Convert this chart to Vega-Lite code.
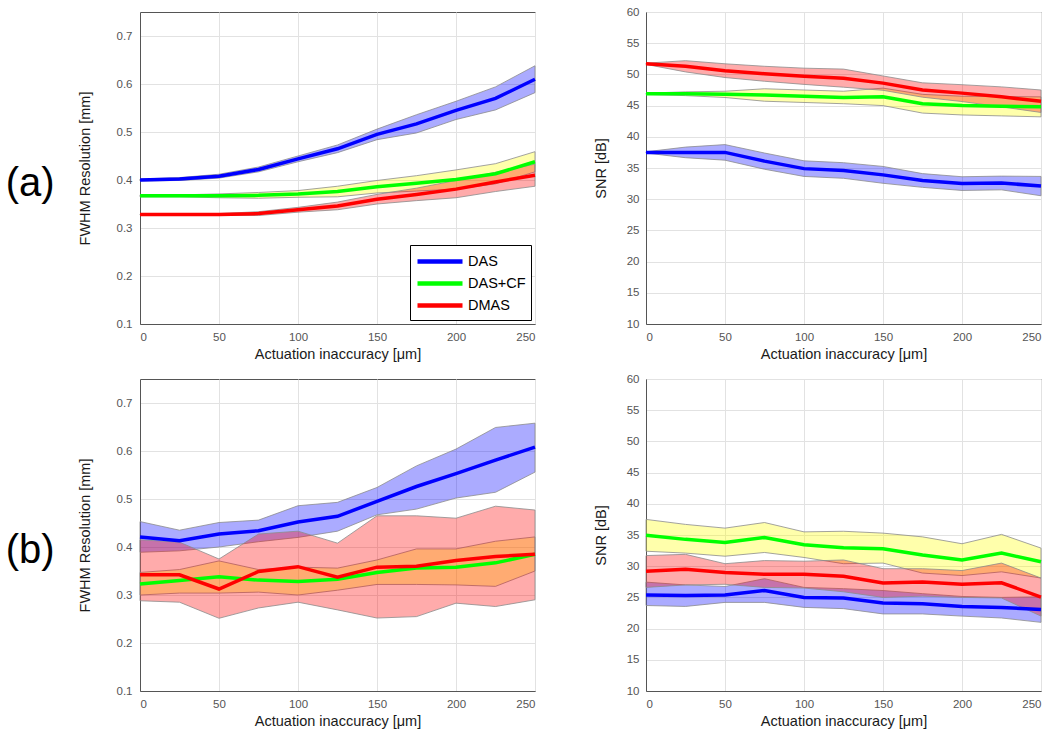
{
  "$schema": "https://vega.github.io/schema/vega-lite/v6.json",
  "padding": {"left": 5, "top": 5, "right": 5, "bottom": 5},
  "background": "white",
  "config": {
    "font": "Liberation Sans",
    "view": {"stroke": "#555", "strokeWidth": 1},
    "axis": {"grid": true, "gridColor": "#e2e2e2", "domainColor": "#555", "tickSize": 0, "labelColor": "#555", "labelFontSize": 11.5, "titleFontSize": 14.5, "titleFontWeight": "normal", "titleColor": "#1a1a1a"},
    "title": {"font": "Liberation Sans", "fontWeight": "normal", "color": "#000"}
  },
  "datasets": {
    "al": [
      {"x":0,"m":"DAS","mean":0.400,"lo":0.398,"hi":0.402},{"x":25,"m":"DAS","mean":0.402,"lo":0.399,"hi":0.405},{"x":50,"m":"DAS","mean":0.408,"lo":0.404,"hi":0.412},{"x":75,"m":"DAS","mean":0.422,"lo":0.417,"hi":0.427},{"x":100,"m":"DAS","mean":0.444,"lo":0.438,"hi":0.450},{"x":125,"m":"DAS","mean":0.465,"lo":0.457,"hi":0.473},{"x":150,"m":"DAS","mean":0.495,"lo":0.484,"hi":0.506},{"x":175,"m":"DAS","mean":0.517,"lo":0.498,"hi":0.536},{"x":200,"m":"DAS","mean":0.545,"lo":0.526,"hi":0.564},{"x":225,"m":"DAS","mean":0.570,"lo":0.546,"hi":0.594},{"x":250,"m":"DAS","mean":0.610,"lo":0.582,"hi":0.638},
      {"x":0,"m":"DAS+CF","mean":0.367,"lo":0.365,"hi":0.369},{"x":25,"m":"DAS+CF","mean":0.367,"lo":0.365,"hi":0.369},{"x":50,"m":"DAS+CF","mean":0.367,"lo":0.363,"hi":0.371},{"x":75,"m":"DAS+CF","mean":0.368,"lo":0.362,"hi":0.374},{"x":100,"m":"DAS+CF","mean":0.371,"lo":0.364,"hi":0.378},{"x":125,"m":"DAS+CF","mean":0.376,"lo":0.365,"hi":0.387},{"x":150,"m":"DAS+CF","mean":0.386,"lo":0.373,"hi":0.399},{"x":175,"m":"DAS+CF","mean":0.393,"lo":0.377,"hi":0.409},{"x":200,"m":"DAS+CF","mean":0.401,"lo":0.381,"hi":0.421},{"x":225,"m":"DAS+CF","mean":0.413,"lo":0.392,"hi":0.434},{"x":250,"m":"DAS+CF","mean":0.438,"lo":0.417,"hi":0.459},
      {"x":0,"m":"DMAS","mean":0.328,"lo":0.327,"hi":0.329},{"x":25,"m":"DMAS","mean":0.328,"lo":0.327,"hi":0.329},{"x":50,"m":"DMAS","mean":0.328,"lo":0.326,"hi":0.330},{"x":75,"m":"DMAS","mean":0.330,"lo":0.326,"hi":0.334},{"x":100,"m":"DMAS","mean":0.338,"lo":0.333,"hi":0.343},{"x":125,"m":"DMAS","mean":0.346,"lo":0.338,"hi":0.354},{"x":150,"m":"DMAS","mean":0.360,"lo":0.350,"hi":0.370},{"x":175,"m":"DMAS","mean":0.370,"lo":0.357,"hi":0.383},{"x":200,"m":"DMAS","mean":0.381,"lo":0.363,"hi":0.399},{"x":225,"m":"DMAS","mean":0.396,"lo":0.376,"hi":0.416},{"x":250,"m":"DMAS","mean":0.410,"lo":0.387,"hi":0.433}
    ],
    "ar": [
      {"x":0,"m":"DAS","mean":37.5,"lo":37.4,"hi":37.6},{"x":25,"m":"DAS","mean":37.5,"lo":36.65,"hi":38.35},{"x":50,"m":"DAS","mean":37.5,"lo":36.25,"hi":38.75},{"x":75,"m":"DAS","mean":36.1,"lo":34.8,"hi":37.4},{"x":100,"m":"DAS","mean":34.9,"lo":33.65,"hi":36.15},{"x":125,"m":"DAS","mean":34.6,"lo":33.35,"hi":35.85},{"x":150,"m":"DAS","mean":33.9,"lo":32.55,"hi":35.25},{"x":175,"m":"DAS","mean":33.0,"lo":31.9,"hi":34.1},{"x":200,"m":"DAS","mean":32.5,"lo":31.4,"hi":33.6},{"x":225,"m":"DAS","mean":32.6,"lo":31.5,"hi":33.7},{"x":250,"m":"DAS","mean":32.1,"lo":30.55,"hi":33.65},
      {"x":0,"m":"DAS+CF","mean":46.9,"lo":46.8,"hi":47.0},{"x":25,"m":"DAS+CF","mean":46.9,"lo":46.6,"hi":47.2},{"x":50,"m":"DAS+CF","mean":46.8,"lo":46.3,"hi":47.3},{"x":75,"m":"DAS+CF","mean":46.7,"lo":45.7,"hi":47.7},{"x":100,"m":"DAS+CF","mean":46.5,"lo":45.5,"hi":47.5},{"x":125,"m":"DAS+CF","mean":46.3,"lo":45.3,"hi":47.3},{"x":150,"m":"DAS+CF","mean":46.4,"lo":45.0,"hi":47.8},{"x":175,"m":"DAS+CF","mean":45.3,"lo":43.8,"hi":46.8},{"x":200,"m":"DAS+CF","mean":45.0,"lo":43.5,"hi":46.5},{"x":225,"m":"DAS+CF","mean":44.9,"lo":43.35,"hi":46.45},{"x":250,"m":"DAS+CF","mean":44.8,"lo":43.2,"hi":46.4},
      {"x":0,"m":"DMAS","mean":51.7,"lo":51.6,"hi":51.8},{"x":25,"m":"DMAS","mean":51.3,"lo":50.4,"hi":52.2},{"x":50,"m":"DMAS","mean":50.6,"lo":49.5,"hi":51.7},{"x":75,"m":"DMAS","mean":50.1,"lo":48.9,"hi":51.3},{"x":100,"m":"DMAS","mean":49.7,"lo":48.4,"hi":51.0},{"x":125,"m":"DMAS","mean":49.4,"lo":47.95,"hi":50.85},{"x":150,"m":"DMAS","mean":48.6,"lo":47.45,"hi":49.75},{"x":175,"m":"DMAS","mean":47.5,"lo":46.35,"hi":48.65},{"x":200,"m":"DMAS","mean":47.0,"lo":45.65,"hi":48.35},{"x":225,"m":"DMAS","mean":46.4,"lo":44.8,"hi":48.0},{"x":250,"m":"DMAS","mean":45.7,"lo":43.9,"hi":47.5}
    ],
    "bl": [
      {"x":0,"m":"DAS","mean":0.421,"lo":0.389,"hi":0.453},{"x":25,"m":"DAS","mean":0.413,"lo":0.392,"hi":0.435},{"x":50,"m":"DAS","mean":0.427,"lo":0.400,"hi":0.451},{"x":75,"m":"DAS","mean":0.434,"lo":0.411,"hi":0.456},{"x":100,"m":"DAS","mean":0.452,"lo":0.420,"hi":0.486},{"x":125,"m":"DAS","mean":0.464,"lo":0.433,"hi":0.493},{"x":150,"m":"DAS","mean":0.495,"lo":0.467,"hi":0.524},{"x":175,"m":"DAS","mean":0.526,"lo":0.479,"hi":0.569},{"x":200,"m":"DAS","mean":0.553,"lo":0.502,"hi":0.604},{"x":225,"m":"DAS","mean":0.581,"lo":0.514,"hi":0.649},{"x":250,"m":"DAS","mean":0.608,"lo":0.556,"hi":0.658},
      {"x":0,"m":"DAS+CF","mean":0.323,"lo":0.300,"hi":0.347},{"x":25,"m":"DAS+CF","mean":0.330,"lo":0.304,"hi":0.353},{"x":50,"m":"DAS+CF","mean":0.338,"lo":0.304,"hi":0.371},{"x":75,"m":"DAS+CF","mean":0.331,"lo":0.306,"hi":0.353},{"x":100,"m":"DAS+CF","mean":0.328,"lo":0.300,"hi":0.358},{"x":125,"m":"DAS+CF","mean":0.333,"lo":0.310,"hi":0.356},{"x":150,"m":"DAS+CF","mean":0.347,"lo":0.322,"hi":0.373},{"x":175,"m":"DAS+CF","mean":0.356,"lo":0.322,"hi":0.396},{"x":200,"m":"DAS+CF","mean":0.358,"lo":0.321,"hi":0.396},{"x":225,"m":"DAS+CF","mean":0.367,"lo":0.318,"hi":0.412},{"x":250,"m":"DAS+CF","mean":0.385,"lo":0.350,"hi":0.421},
      {"x":0,"m":"DMAS","mean":0.342,"lo":0.288,"hi":0.415},{"x":25,"m":"DMAS","mean":0.342,"lo":0.285,"hi":0.410},{"x":50,"m":"DMAS","mean":0.3125,"lo":0.2515,"hi":0.375},{"x":75,"m":"DMAS","mean":0.349,"lo":0.273,"hi":0.427},{"x":100,"m":"DMAS","mean":0.359,"lo":0.285,"hi":0.433},{"x":125,"m":"DMAS","mean":0.337,"lo":0.269,"hi":0.408},{"x":150,"m":"DMAS","mean":0.358,"lo":0.252,"hi":0.465},{"x":175,"m":"DMAS","mean":0.360,"lo":0.255,"hi":0.465},{"x":200,"m":"DMAS","mean":0.372,"lo":0.283,"hi":0.460},{"x":225,"m":"DMAS","mean":0.380,"lo":0.276,"hi":0.485},{"x":250,"m":"DMAS","mean":0.385,"lo":0.290,"hi":0.477}
    ],
    "br": [
      {"x":0,"m":"DAS","mean":25.4,"lo":23.7,"hi":27.45},{"x":25,"m":"DAS","mean":25.3,"lo":23.55,"hi":27.0},{"x":50,"m":"DAS","mean":25.4,"lo":24.2,"hi":26.75},{"x":75,"m":"DAS","mean":26.1,"lo":24.2,"hi":28.0},{"x":100,"m":"DAS","mean":25.0,"lo":23.4,"hi":26.6},{"x":125,"m":"DAS","mean":24.9,"lo":23.2,"hi":26.4},{"x":150,"m":"DAS","mean":24.1,"lo":22.35,"hi":26.1},{"x":175,"m":"DAS","mean":24.0,"lo":22.35,"hi":25.6},{"x":200,"m":"DAS","mean":23.55,"lo":22.0,"hi":25.15},{"x":225,"m":"DAS","mean":23.4,"lo":21.7,"hi":25.0},{"x":250,"m":"DAS","mean":23.05,"lo":21.0,"hi":25.1},
      {"x":0,"m":"DAS+CF","mean":34.95,"lo":32.4,"hi":37.5},{"x":25,"m":"DAS+CF","mean":34.3,"lo":32.1,"hi":36.7},{"x":50,"m":"DAS+CF","mean":33.8,"lo":31.6,"hi":36.1},{"x":75,"m":"DAS+CF","mean":34.6,"lo":32.2,"hi":37.0},{"x":100,"m":"DAS+CF","mean":33.45,"lo":31.4,"hi":35.5},{"x":125,"m":"DAS+CF","mean":32.95,"lo":30.4,"hi":35.6},{"x":150,"m":"DAS+CF","mean":32.8,"lo":30.5,"hi":35.3},{"x":175,"m":"DAS+CF","mean":31.8,"lo":28.9,"hi":34.7},{"x":200,"m":"DAS+CF","mean":31.0,"lo":28.5,"hi":33.6},{"x":225,"m":"DAS+CF","mean":32.1,"lo":29.1,"hi":35.1},{"x":250,"m":"DAS+CF","mean":30.7,"lo":28.1,"hi":32.9},
      {"x":0,"m":"DMAS","mean":29.2,"lo":26.6,"hi":31.7},{"x":25,"m":"DMAS","mean":29.5,"lo":27.0,"hi":31.9},{"x":50,"m":"DMAS","mean":29.0,"lo":27.1,"hi":30.4},{"x":75,"m":"DMAS","mean":28.7,"lo":26.6,"hi":30.9},{"x":100,"m":"DMAS","mean":28.7,"lo":26.5,"hi":30.8},{"x":125,"m":"DMAS","mean":28.4,"lo":25.9,"hi":31.0},{"x":150,"m":"DMAS","mean":27.3,"lo":25.0,"hi":29.6},{"x":175,"m":"DMAS","mean":27.45,"lo":25.2,"hi":29.6},{"x":200,"m":"DMAS","mean":27.1,"lo":25.0,"hi":29.3},{"x":225,"m":"DMAS","mean":27.35,"lo":24.9,"hi":30.5},{"x":250,"m":"DMAS","mean":25.05,"lo":22.0,"hi":28.1}
    ]
  },
  "spacing": 10,
  "resolve": {"scale": {"fill": "independent", "color": "independent", "x": "independent", "y": "independent"}, "legend": {"fill": "independent", "color": "independent"}},
  "vconcat": [
    {
      "title": {"text": "(a)", "orient": "left", "angle": 0, "anchor": "middle", "fontSize": 40, "align": "left", "baseline": "middle", "offset": 22},
      "spacing": 49,
      "resolve": {"scale": {"fill": "independent", "color": "independent", "x": "independent", "y": "independent"}, "legend": {"fill": "independent", "color": "independent"}},
      "hconcat": [
        {
          "width": 395, "height": 312,
          "data": {"name": "al"},
          "layer": [
            {"mark": {"type": "area", "fillOpacity": 0.33, "stroke": "#8c8c8c", "strokeWidth": 0.8},
             "encoding": {
               "x": {"field": "x", "type": "quantitative", "scale": {"domain": [0, 250], "nice": false}, "axis": {"values": [0,50,100,150,200,250], "title": "Actuation inaccuracy [μm]", "labelPadding": 7, "titlePadding": 5}},
               "y": {"field": "lo", "type": "quantitative", "scale": {"domain": [0.1, 0.75], "nice": false, "zero": false}, "axis": {"values": [0.1,0.2,0.3,0.4,0.5,0.6,0.7], "format": ".1f", "title": "FWHM Resolution [mm]", "labelPadding": 8, "titlePadding": 24}},
               "y2": {"field": "hi"},
               "fill": {"field": "m", "type": "nominal", "scale": {"domain": ["DMAS", "DAS", "DAS+CF"], "range": ["#ff0000", "#0000ff", "#ffff00"]}, "legend": null}
             }},
            {"mark": {"type": "line", "strokeWidth": 3.5},
             "encoding": {
               "x": {"field": "x", "type": "quantitative", "scale": {"domain": [0, 250], "nice": false}, "axis": {"values": [0,50,100,150,200,250], "title": "Actuation inaccuracy [μm]", "labelPadding": 7, "titlePadding": 5}},
               "y": {"field": "mean", "type": "quantitative", "scale": {"domain": [0.1, 0.75], "nice": false, "zero": false}, "axis": {"values": [0.1,0.2,0.3,0.4,0.5,0.6,0.7], "format": ".1f", "title": "FWHM Resolution [mm]", "labelPadding": 8, "titlePadding": 24}},
               "color": {"field": "m", "type": "nominal", "scale": {"domain": ["DAS", "DAS+CF", "DMAS"], "range": ["#0000ff", "#00ff00", "#ff0000"]},
                 "legend": {"orient": "bottom-right", "title": null, "symbolType": "M-1,0H4", "symbolSize": 324, "symbolStrokeWidth": 4.5, "labelFontSize": 14.5, "labelColor": "#000", "strokeColor": "#000", "fillColor": "#fff", "padding": 5, "offset": 4, "labelOffset": 30, "rowPadding": 1}}
             }}
          ]
        },
        {
          "width": 395, "height": 312,
          "data": {"name": "ar"},
          "layer": [
            {"mark": {"type": "area", "fillOpacity": 0.33, "stroke": "#8c8c8c", "strokeWidth": 0.8},
             "encoding": {
               "x": {"field": "x", "type": "quantitative", "scale": {"domain": [0, 250], "nice": false}, "axis": {"values": [0,50,100,150,200,250], "title": "Actuation inaccuracy [μm]", "labelPadding": 7, "titlePadding": 5}},
               "y": {"field": "lo", "type": "quantitative", "scale": {"domain": [10, 60], "nice": false, "zero": false}, "axis": {"values": [10,15,20,25,30,35,40,45,50,55,60], "title": "SNR [dB]", "labelPadding": 7, "titlePadding": 18}},
               "y2": {"field": "hi"},
               "fill": {"field": "m", "type": "nominal", "scale": {"domain": ["DMAS", "DAS", "DAS+CF"], "range": ["#ff0000", "#0000ff", "#ffff00"]}, "legend": null}
             }},
            {"mark": {"type": "line", "strokeWidth": 3.5},
             "encoding": {
               "x": {"field": "x", "type": "quantitative", "scale": {"domain": [0, 250], "nice": false}, "axis": {"values": [0,50,100,150,200,250], "title": "Actuation inaccuracy [μm]", "labelPadding": 7, "titlePadding": 5}},
               "y": {"field": "mean", "type": "quantitative", "scale": {"domain": [10, 60], "nice": false, "zero": false}, "axis": {"values": [10,15,20,25,30,35,40,45,50,55,60], "title": "SNR [dB]", "labelPadding": 7, "titlePadding": 18}},
               "color": {"field": "m", "type": "nominal", "scale": {"domain": ["DAS", "DAS+CF", "DMAS"], "range": ["#0000ff", "#00ff00", "#ff0000"]}, "legend": null}
             }}
          ]
        }
      ]
    },
    {
      "title": {"text": "(b)", "orient": "left", "angle": 0, "anchor": "middle", "fontSize": 40, "align": "left", "baseline": "middle", "offset": 22},
      "spacing": 49,
      "resolve": {"scale": {"fill": "independent", "color": "independent", "x": "independent", "y": "independent"}, "legend": {"fill": "independent", "color": "independent"}},
      "hconcat": [
        {
          "width": 395, "height": 312,
          "data": {"name": "bl"},
          "layer": [
            {"mark": {"type": "area", "fillOpacity": 0.33, "stroke": "#8c8c8c", "strokeWidth": 0.8},
             "encoding": {
               "x": {"field": "x", "type": "quantitative", "scale": {"domain": [0, 250], "nice": false}, "axis": {"values": [0,50,100,150,200,250], "title": "Actuation inaccuracy [μm]", "labelPadding": 7, "titlePadding": 5}},
               "y": {"field": "lo", "type": "quantitative", "scale": {"domain": [0.1, 0.75], "nice": false, "zero": false}, "axis": {"values": [0.1,0.2,0.3,0.4,0.5,0.6,0.7], "format": ".1f", "title": "FWHM Resolution [mm]", "labelPadding": 8, "titlePadding": 24}},
               "y2": {"field": "hi"},
               "fill": {"field": "m", "type": "nominal", "scale": {"domain": ["DMAS", "DAS", "DAS+CF"], "range": ["#ff0000", "#0000ff", "#ffff00"]}, "legend": null}
             }},
            {"mark": {"type": "line", "strokeWidth": 3.5},
             "encoding": {
               "x": {"field": "x", "type": "quantitative", "scale": {"domain": [0, 250], "nice": false}, "axis": {"values": [0,50,100,150,200,250], "title": "Actuation inaccuracy [μm]", "labelPadding": 7, "titlePadding": 5}},
               "y": {"field": "mean", "type": "quantitative", "scale": {"domain": [0.1, 0.75], "nice": false, "zero": false}, "axis": {"values": [0.1,0.2,0.3,0.4,0.5,0.6,0.7], "format": ".1f", "title": "FWHM Resolution [mm]", "labelPadding": 8, "titlePadding": 24}},
               "color": {"field": "m", "type": "nominal", "scale": {"domain": ["DAS", "DAS+CF", "DMAS"], "range": ["#0000ff", "#00ff00", "#ff0000"]}, "legend": null}
             }}
          ]
        },
        {
          "width": 395, "height": 312,
          "data": {"name": "br"},
          "layer": [
            {"mark": {"type": "area", "fillOpacity": 0.33, "stroke": "#8c8c8c", "strokeWidth": 0.8},
             "encoding": {
               "x": {"field": "x", "type": "quantitative", "scale": {"domain": [0, 250], "nice": false}, "axis": {"values": [0,50,100,150,200,250], "title": "Actuation inaccuracy [μm]", "labelPadding": 7, "titlePadding": 5}},
               "y": {"field": "lo", "type": "quantitative", "scale": {"domain": [10, 60], "nice": false, "zero": false}, "axis": {"values": [10,15,20,25,30,35,40,45,50,55,60], "title": "SNR [dB]", "labelPadding": 7, "titlePadding": 18}},
               "y2": {"field": "hi"},
               "fill": {"field": "m", "type": "nominal", "scale": {"domain": ["DMAS", "DAS", "DAS+CF"], "range": ["#ff0000", "#0000ff", "#ffff00"]}, "legend": null}
             }},
            {"mark": {"type": "line", "strokeWidth": 3.5},
             "encoding": {
               "x": {"field": "x", "type": "quantitative", "scale": {"domain": [0, 250], "nice": false}, "axis": {"values": [0,50,100,150,200,250], "title": "Actuation inaccuracy [μm]", "labelPadding": 7, "titlePadding": 5}},
               "y": {"field": "mean", "type": "quantitative", "scale": {"domain": [10, 60], "nice": false, "zero": false}, "axis": {"values": [10,15,20,25,30,35,40,45,50,55,60], "title": "SNR [dB]", "labelPadding": 7, "titlePadding": 18}},
               "color": {"field": "m", "type": "nominal", "scale": {"domain": ["DAS", "DAS+CF", "DMAS"], "range": ["#0000ff", "#00ff00", "#ff0000"]}, "legend": null}
             }}
          ]
        }
      ]
    }
  ]
}
